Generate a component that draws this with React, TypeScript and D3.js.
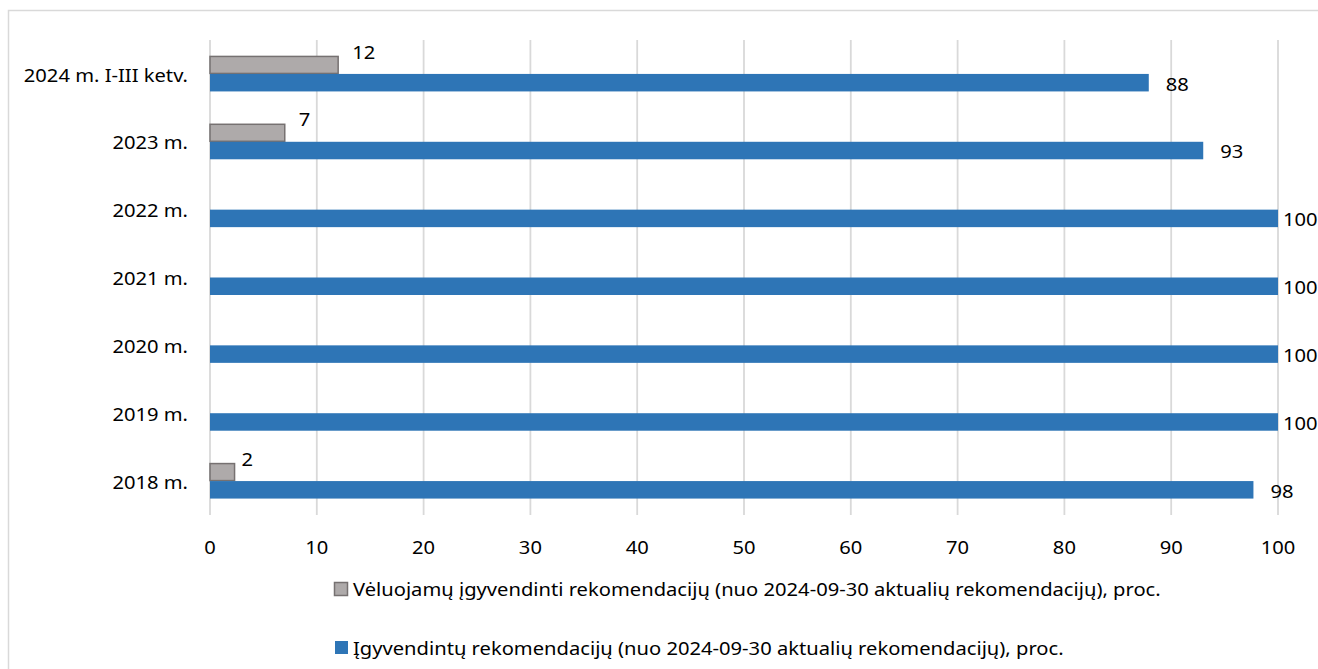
import React from "react";
import * as d3 from "d3";

const categories = [
  "2024 m. I-III ketv.",
  "2023 m.",
  "2022 m.",
  "2021 m.",
  "2020 m.",
  "2019 m.",
  "2018 m.",
];
const delayedValues = [12, 7, 0, 0, 0, 0, 2.3];
const implementedValues = [87.9, 93, 100, 100, 100, 100, 97.7];
const xTicks = [0, 10, 20, 30, 40, 50, 60, 70, 80, 90, 100];
const seriesNames = [
  "Vėluojamų įgyvendinti rekomendacijų (nuo 2024-09-30 aktualių rekomendacijų), proc.",
  "Įgyvendintų rekomendacijų (nuo 2024-09-30 aktualių rekomendacijų), proc.",
];

const W = 1318;
const H = 669;
const FONT = "'Noto Sans', 'Open Sans', sans-serif";
const GRAY = "#aeaaaa";
const GRAY_STROKE = "#767171";
const BLUE = "#2e75b6";
const FS = 18;
const SX = 1.12;

function T({ x, y, anchor = "start", children }: { x: number; y: number; anchor?: string; children: React.ReactNode }) {
  return (
    <g transform={`translate(${x},${y}) scale(${SX},1)`}>
      <text x={0} y={0} textAnchor={anchor as any} dominantBaseline="central" fontSize={FS} fill="#000">
        {children}
      </text>
    </g>
  );
}

export default function App() {
  const x = d3.scaleLinear().domain([0, 100]).range([210, 1278]);
  const y = d3.scaleBand<string>().domain(categories).range([40, 515]).paddingInner(0).paddingOuter(0);
  const barH = 17.5;

  return (
    <svg
      width={W}
      height={H}
      style={{ position: "absolute", left: 0, top: 0, background: "#fff" }}
      fontFamily={FONT}
    >
      <rect x={8.5} y={10.5} width={1400} height={800} fill="#fff" stroke="#d9d9d9" strokeWidth={1.5} />
      {xTicks.map((t) => (
        <g key={t}>
          <line x1={x(t)} x2={x(t)} y1={40} y2={515} stroke="#d9d9d9" strokeWidth={1.8} />
          <T x={x(t)} y={547} anchor="middle">
            {t}
          </T>
        </g>
      ))}
      {categories.map((c, i) => {
        const cy = (y(c) as number) + y.bandwidth() / 2;
        const gv = delayedValues[i];
        const bv = implementedValues[i];
        const bxEnd = x(bv);
        return (
          <g key={c}>
            <T x={188} y={cy + 1} anchor="end">
              {c}
            </T>
            {gv > 0 && (
              <>
                <rect
                  x={x(0)}
                  y={cy - barH}
                  width={x(gv) - x(0)}
                  height={barH - 0.5}
                  fill={GRAY}
                  stroke={GRAY_STROKE}
                  strokeWidth={1.5}
                />
                <T x={x(gv) + (gv < 5 ? 7 : 14)} y={cy - 22}>
                  {Math.round(gv)}
                </T>
              </>
            )}
            <rect x={x(0)} y={cy} width={bxEnd - x(0)} height={barH} fill={BLUE} />
            <T x={Math.min(bxEnd + 17, 1283)} y={cy + 10}>
              {Math.round(bv)}
            </T>
          </g>
        );
      })}
      <g>
        <rect x={334.5} y={582.5} width={13} height={13} fill={GRAY} stroke={GRAY_STROKE} strokeWidth={1.5} />
        <T x={353} y={589}>
          {seriesNames[0]}
        </T>
        <rect x={335} y={641} width={13} height={13} fill={BLUE} />
        <T x={353} y={648}>
          {seriesNames[1]}
        </T>
      </g>
    </svg>
  );
}
